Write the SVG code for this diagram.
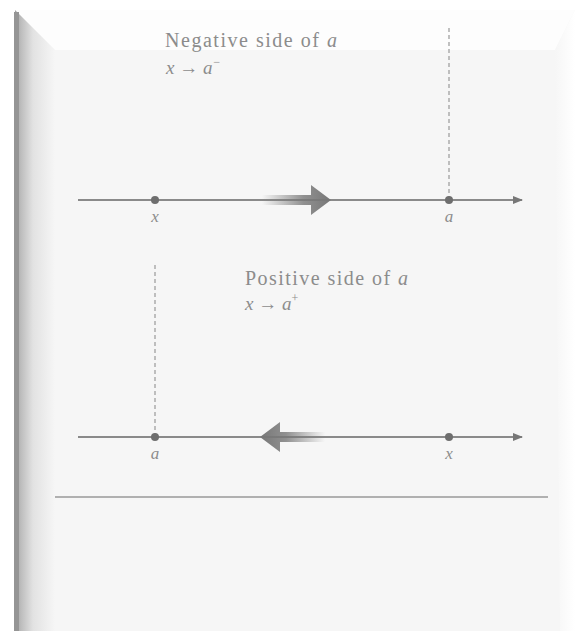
<svg xmlns="http://www.w3.org/2000/svg" width="585" height="631" viewBox="0 0 585 631">
<defs>
<linearGradient id="leftBevel" x1="0" y1="0" x2="1" y2="0">
<stop offset="0" stop-color="#a0a0a0"/>
<stop offset="0.15" stop-color="#bdbdbd"/>
<stop offset="0.45" stop-color="#e2e2e2"/>
<stop offset="1" stop-color="#f6f6f6"/>
</linearGradient>
<linearGradient id="rightBevel" x1="0" y1="0" x2="1" y2="0">
<stop offset="0" stop-color="#f6f6f6"/>
<stop offset="1" stop-color="#ffffff"/>
</linearGradient>
<linearGradient id="fadeR" x1="0" y1="0" x2="1" y2="0">
<stop offset="0" stop-color="#777" stop-opacity="0"/>
<stop offset="0.6" stop-color="#777" stop-opacity="0.8"/>
<stop offset="1" stop-color="#777"/>
</linearGradient>
<linearGradient id="fadeL" x1="1" y1="0" x2="0" y2="0">
<stop offset="0" stop-color="#777" stop-opacity="0"/>
<stop offset="0.6" stop-color="#777" stop-opacity="0.8"/>
<stop offset="1" stop-color="#777"/>
</linearGradient>
<marker id="axisHead" markerWidth="10" markerHeight="8" refX="9" refY="4" orient="auto" markerUnits="userSpaceOnUse">
<path d="M0,0 L10,4 L0,8 Z" fill="#777"/>
</marker>
<style>
.axis{stroke:#8a8a8a;stroke-width:2;fill:none}
.dash{stroke:#999;stroke-width:1.2;stroke-dasharray:4,3;fill:none}
.dot{fill:#6e6e6e}
.lbl{font-family:"Liberation Serif",serif;font-size:20px;fill:#8c8c8c}
.var{font-family:"Liberation Serif",serif;font-style:italic;font-size:19px;fill:#8c8c8c}
.pt{font-family:"Liberation Serif",serif;font-style:italic;font-size:17px;fill:#8c8c8c}
</style>
</defs>
<rect x="0" y="0" width="585" height="631" fill="#ffffff"/>
<rect x="15" y="10" width="560" height="621" fill="#f6f6f6"/>
<polygon points="15,10 575,10 555,50 55,50" fill="#fdfdfd"/>
<polygon points="15,10 55,50 55,631 15,631" fill="url(#leftBevel)"/>
<rect x="14" y="12" width="5" height="619" fill="#959595"/>
<polygon points="575,10 575,631 560,631 555,50" fill="url(#rightBevel)"/>
<rect x="55" y="50" width="500" height="581" fill="#f6f6f6"/>

<g id="connectors">
<line class="dash" x1="449" y1="28" x2="449" y2="199"/>
<line class="dash" x1="155" y1="265" x2="155" y2="436"/>
<line class="axis" x1="78" y1="200" x2="522" y2="200" marker-end="url(#axisHead)"/>
<line class="axis" x1="78" y1="437" x2="522" y2="437" marker-end="url(#axisHead)"/>
<line x1="55" y1="497" x2="548" y2="497" stroke="#999" stroke-width="1.5"/>
</g>

<g id="arrow-right">
<path d="M262,195 L311,195 L311,185 L331,200 L311,215 L311,205 L262,205 Z" fill="url(#fadeR)"/>
</g>
<g id="arrow-left">
<path d="M325,432 L280,432 L280,422 L260,437 L280,452 L280,442 L325,442 Z" fill="url(#fadeL)"/>
</g>

<g id="top-x">
<circle class="dot" cx="155" cy="200" r="4"/>
<text class="pt" x="155" y="222" text-anchor="middle">x</text>
</g>
<g id="top-a">
<circle class="dot" cx="449" cy="200" r="4"/>
<text class="pt" x="449" y="222" text-anchor="middle">a</text>
</g>
<g id="bottom-a">
<circle class="dot" cx="155" cy="437" r="4"/>
<text class="pt" x="155" y="459" text-anchor="middle">a</text>
</g>
<g id="bottom-x">
<circle class="dot" cx="449" cy="437" r="4"/>
<text class="pt" x="449" y="459" text-anchor="middle">x</text>
</g>

<g id="negative-label">
<text class="lbl" x="165" y="47" textLength="172">Negative side of <tspan font-style="italic">a</tspan></text>
<text class="var" x="166" y="74">x <tspan font-style="normal">→</tspan> a<tspan font-size="12" dy="-8">−</tspan></text>
</g>
<g id="positive-label">
<text class="lbl" x="245" y="285" textLength="163">Positive side of <tspan font-style="italic">a</tspan></text>
<text class="var" x="245" y="310">x <tspan font-style="normal">→</tspan> a<tspan font-size="12" dy="-8" font-style="normal">+</tspan></text>
</g>
</svg>
